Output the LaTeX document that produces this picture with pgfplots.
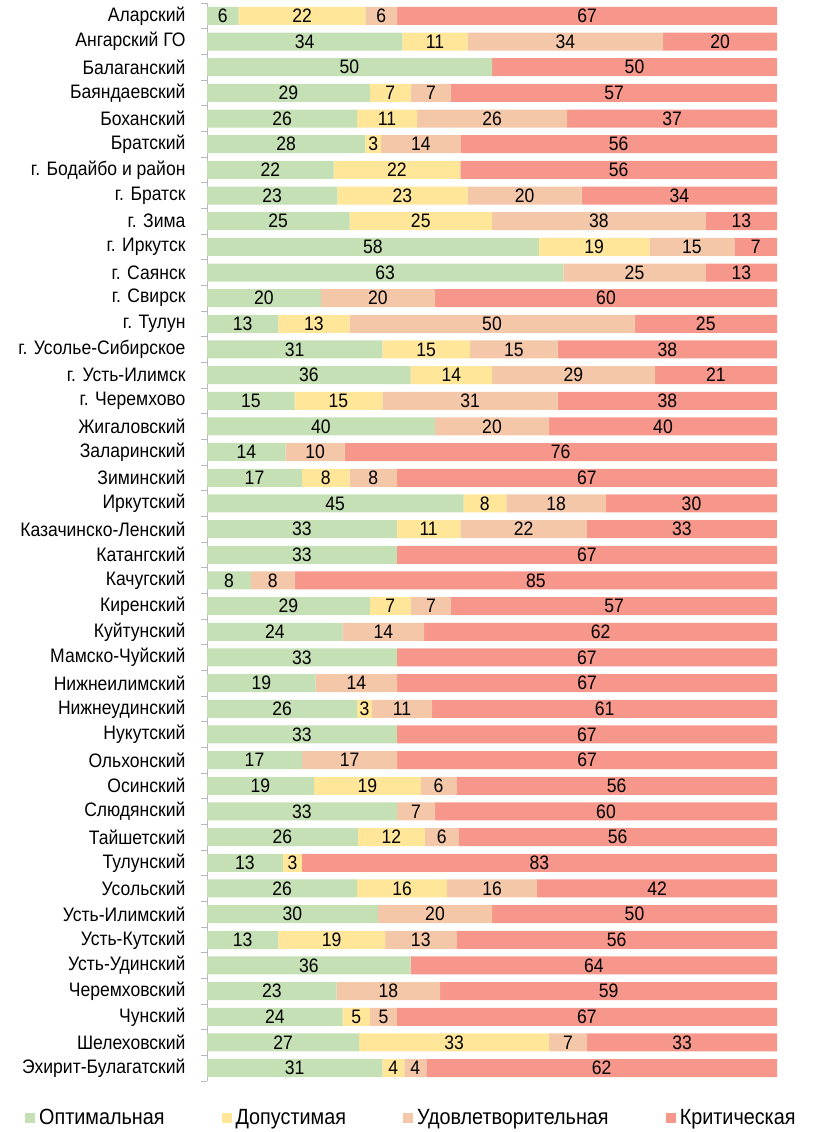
\documentclass[border=0pt]{standalone}
\usepackage{fontspec}
\setmainfont{Liberation Sans}[FakeStretch=0.9]
\usepackage{pgfplots}
\pgfplotsset{compat=1.18}
\definecolor{cOpt}{HTML}{C5E0B4}
\definecolor{cDop}{HTML}{FFE699}
\definecolor{cUdo}{HTML}{F4C7A9}
\definecolor{cKri}{HTML}{F7968A}
\newcommand{\lf}{\fontsize{19.5}{22}\selectfont}
\begin{document}
\begin{tikzpicture}
\useasboundingbox (0,0) rectangle (814pt,-1132pt);
\begin{axis}[
  at={(207pt,-3pt)}, anchor=north west,
  scale only axis, width=570pt, height=1078pt,
  xbar stacked, bar width=18pt,
  xmin=0, xmax=100, ymin=-0.5, ymax=41.5, y dir=reverse,
  axis x line=none, axis y line*=left,
  y axis line style={gray!55, line width=0.8pt},
  ytick={0,...,41},
  minor ytick={-0.5,0.5,...,41.5},
  major tick length=0pt, minor tick length=6pt, tick align=outside,
  minor tick style={gray!55, line width=0.8pt},
  yticklabel style={font=\lf, xshift=-18pt},
  yticklabels={Аларский,Ангарский ГО,Балаганский,Баяндаевский,Боханский,Братский,г. Бодайбо и район,г. Братск,г. Зима,г. Иркутск,г. Саянск,г. Свирск,г. Тулун,г. Усолье-Сибирское,г. Усть-Илимск,г. Черемхово,Жигаловский,Заларинский,Зиминский,Иркутский,Казачинско-Ленский,Катангский,Качугский,Киренский,Куйтунский,Мамско-Чуйский,Нижнеилимский,Нижнеудинский,Нукутский,Ольхонский,Осинский,Слюдянский,Тайшетский,Тулунский,Усольский,Усть-Илимский,Усть-Кутский,Усть-Удинский,Черемховский,Чунский,Шелеховский,Эхирит-Булагатский},
  point meta=explicit symbolic,
  nodes near coords,
  every node near coord/.append style={font=\lf, text=black},
  legend columns=4,
  legend style={draw=none, fill=none, font=\fontsize{22}{25}\selectfont, at={(-0.3246,-0.0343)}, anchor=west,
    /tikz/every even column/.append style={column sep=55pt},
    /tikz/every odd column/.append style={column sep=2pt}},
  legend image code/.code={\fill[#1] (0pt,-5pt) rectangle (10pt,5pt);},
]
\addplot[fill=cOpt, draw=none] coordinates {
(5.56,0)[6] (34.29,1)[34] (50,2)[50] (28.57,3)[29] (26.32,4)[26] (27.78,5)[28] (22.22,6)[22] (22.86,7)[23] (25,8)[25] (58.21,9)[58]
(62.5,10)[63] (20,11)[20] (12.5,12)[13] (30.77,13)[31] (35.71,14)[36] (15.38,15)[15] (40,16)[40] (13.79,17)[14] (16.67,18)[17] (45,19)[45]
(33.33,20)[33] (33.33,21)[33] (7.69,22)[8] (28.57,23)[29] (23.81,24)[24] (33.33,25)[33] (19.05,26)[19] (26.32,27)[26] (33.33,28)[33] (16.67,29)[17]
(18.75,30)[19] (33.33,31)[33] (26.47,32)[26] (13.33,33)[13] (26.32,34)[26] (30,35)[30] (12.5,36)[13] (35.71,37)[36] (22.73,38)[23] (23.81,39)[24]
(26.67,40)[27] (30.77,41)[31]
};
\addplot[fill=cDop, draw=none] coordinates {
(22.22,0)[22] (11.43,1)[11] (0,2)[{}] (7.14,3)[7] (10.53,4)[11] (2.78,5)[3] (22.22,6)[22] (22.86,7)[23] (25,8)[25] (19.40,9)[19]
(0,10)[{}] (0,11)[{}] (12.5,12)[13] (15.38,13)[15] (14.29,14)[14] (15.38,15)[15] (0,16)[{}] (0,17)[{}] (8.33,18)[8] (7.5,19)[8]
(11.11,20)[11] (0,21)[{}] (0,22)[{}] (7.14,23)[7] (0,24)[{}] (0,25)[{}] (0,26)[{}] (2.63,27)[3] (0,28)[{}] (0,29)[{}]
(18.75,30)[19] (0,31)[{}] (11.76,32)[12] (3.33,33)[3] (15.79,34)[16] (0,35)[{}] (18.75,36)[19] (0,37)[{}] (0,38)[{}] (4.76,39)[5]
(33.33,40)[33] (3.85,41)[4]
};
\addplot[fill=cUdo, draw=none] coordinates {
(5.56,0)[6] (34.29,1)[34] (0,2)[{}] (7.14,3)[7] (26.32,4)[26] (13.89,5)[14] (0,6)[{}] (20,7)[20] (37.5,8)[38] (14.93,9)[15]
(25,10)[25] (20,11)[20] (50,12)[50] (15.38,13)[15] (28.57,14)[29] (30.77,15)[31] (20,16)[20] (10.34,17)[10] (8.33,18)[8] (17.5,19)[18]
(22.22,20)[22] (0,21)[{}] (7.69,22)[8] (7.14,23)[7] (14.29,24)[14] (0,25)[{}] (14.29,26)[14] (10.53,27)[11] (0,28)[{}] (16.67,29)[17]
(6.25,30)[6] (6.67,31)[7] (5.88,32)[6] (0,33)[{}] (15.79,34)[16] (20,35)[20] (12.5,36)[13] (0,37)[{}] (18.18,38)[18] (4.76,39)[5]
(6.67,40)[7] (3.85,41)[4]
};
\addplot[fill=cKri, draw=none] coordinates {
(66.66,0)[67] (19.99,1)[20] (50,2)[50] (57.14,3)[57] (36.83,4)[37] (55.55,5)[56] (55.56,6)[56] (34.28,7)[34] (12.5,8)[13] (7.46,9)[7]
(12.5,10)[13] (60,11)[60] (25,12)[25] (38.46,13)[38] (21.43,14)[21] (38.46,15)[38] (40,16)[40] (75.86,17)[76] (66.67,18)[67] (30,19)[30]
(33.33,20)[33] (66.67,21)[67] (84.62,22)[85] (57.14,23)[57] (61.90,24)[62] (66.67,25)[67] (66.66,26)[67] (60.52,27)[61] (66.67,28)[67] (66.66,29)[67]
(56.25,30)[56] (60,31)[60] (55.88,32)[56] (83.33,33)[83] (42.10,34)[42] (50,35)[50] (56.25,36)[56] (64.29,37)[64] (59.09,38)[59] (66.67,39)[67]
(33.33,40)[33] (61.53,41)[62]
};
\legend{Оптимальная,Допустимая,Удовлетворительная,Критическая}
\end{axis}
\end{tikzpicture}
\end{document}
